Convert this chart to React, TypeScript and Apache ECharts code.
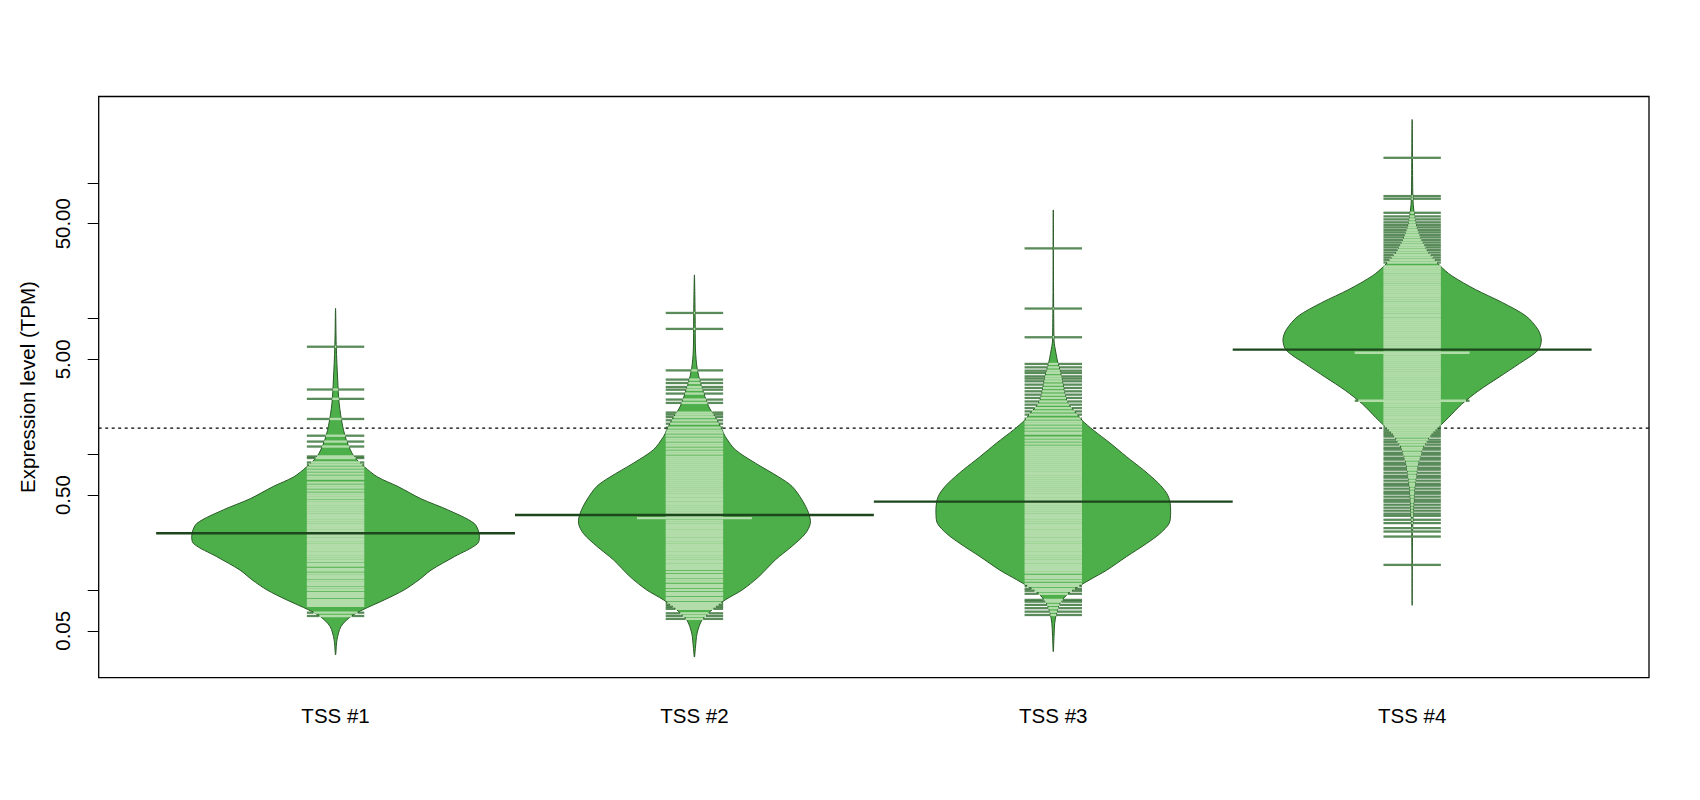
import React, { useEffect, useRef } from "react";
import * as echarts from "echarts";

// ---------- data ----------
const categories = ["TSS #1", "TSS #2", "TSS #3", "TSS #4"];
const beanMeans = [0.262, 0.357, 0.448, 5.9];
const overallMean = 1.556;
const yTickValues = [0.05, 0.1, 0.5, 1, 5, 10, 50, 100];
const yLabelValues = [0.05, 0.5, 5, 50];
const xTickValues = [1, 2, 3, 4];

// bean outlines: [TPM value, half width in x-axis units]
const bean1Outline = [
  [11.9, 0], [6.2, 0.002], [3.53, 0.006], [2.38, 0.01], [1.6, 0.02], [1.21, 0.033],
  [0.96, 0.052], [0.81, 0.08], [0.68, 0.117], [0.58, 0.173], [0.47, 0.238], [0.39, 0.312],
  [0.31, 0.386], [0.26, 0.4], [0.22, 0.396], [0.176, 0.331], [0.14, 0.266], [0.119, 0.233],
  [0.1, 0.191], [0.0845, 0.136], [0.0713, 0.075], [0.0636, 0.042], [0.0537, 0.015],
  [0.0429, 0.004], [0.0332, 0],
];
const bean2Outline = [
  [20.98, 0], [10.3, 0.002], [5.87, 0.003], [4.31, 0.0075], [3.34, 0.017], [2.82, 0.026],
  [2.24, 0.04], [1.79, 0.063], [1.51, 0.077], [1.35, 0.086], [1.08, 0.114], [0.86, 0.17],
  [0.68, 0.235], [0.58, 0.272], [0.46, 0.3], [0.37, 0.318], [0.31, 0.323], [0.26, 0.309],
  [0.21, 0.272], [0.167, 0.226], [0.125, 0.179], [0.1, 0.133], [0.0845, 0.086],
  [0.0713, 0.049], [0.06, 0.021], [0.048, 0.0075], [0.038, 0.003], [0.032, 0],
];
const bean3Outline = [
  [63.2, 0], [6.96, 0.002], [5.56, 0.0075], [4.69, 0.013], [3.73, 0.023], [2.98, 0.03],
  [2.51, 0.037], [2.24, 0.048], [2.0, 0.065], [1.79, 0.079], [1.51, 0.111], [1.21, 0.158],
  [0.96, 0.204], [0.767, 0.251], [0.612, 0.293], [0.516, 0.316], [0.448, 0.325],
  [0.37, 0.327], [0.31, 0.323], [0.26, 0.297], [0.22, 0.26], [0.176, 0.204], [0.14, 0.149],
  [0.119, 0.102], [0.106, 0.07], [0.0946, 0.042], [0.0799, 0.019], [0.0674, 0.009],
  [0.0569, 0.004], [0.0453, 0.002], [0.0351, 0],
];
const bean4Outline = [
  [293, 0], [77.5, 0.002], [61.5, 0.005], [48.9, 0.011], [38.9, 0.024], [30.9, 0.044],
  [24.6, 0.077], [20.7, 0.11], [16.4, 0.176], [13.1, 0.252], [10.4, 0.318], [8.26, 0.351],
  [6.96, 0.36], [5.85, 0.351], [4.66, 0.299], [3.7, 0.242], [2.95, 0.186], [2.34, 0.138],
  [1.86, 0.101], [1.66, 0.082], [1.4, 0.054], [1.11, 0.03], [0.83, 0.016], [0.56, 0.007],
  [0.42, 0.004], [0.26, 0.001], [0.077, 0],
];

// individual observations (TPM); repeated values are ties
const bean1Lines = [
  6.2, 3.0, 2.56, 1.82, 1.37, 1.24, 1.14, 0.963, 0.938, 0.87,
  0.838, 0.797, 0.757, 0.719, 0.684, 0.661, 0.617, 0.587, 0.567, 0.539, 0.512, 0.495, 0.478, 0.455,
  0.439, 0.425, 0.411, 0.397, 0.384, 0.371, 0.358, 0.346, 0.335, 0.324, 0.313, 0.302, 0.292, 0.283,
  0.273, 0.264, 0.255, 0.247, 0.238, 0.231, 0.223, 0.215, 0.208, 0.201, 0.195, 0.188, 0.182, 0.176,
  0.17, 0.164, 0.156, 0.151, 0.143, 0.139, 0.132, 0.127, 0.123, 0.117, 0.113, 0.109, 0.104, 0.1,
  0.0953, 0.0921, 0.089, 0.0846, 0.0818, 0.079, 0.0764, 0.068, 0.0643,
];
const bean2Lines = [
  11.0, 8.39, 4.15, 3.55, 3.35, 3.13, 2.99, 2.8, 2.53, 2.39, 2.03, 1.96, 1.88, 1.78, 1.68,
  1.572, 1.494, 1.443, 1.372, 1.303, 1.26, 1.197, 1.157, 1.1, 1.045, 1.01, 0.96, 0.928,
  0.897, 0.867, 0.838, 0.81, 0.783, 0.757, 0.732, 0.707, 0.684, 0.661, 0.639, 0.617, 0.597, 0.577,
  0.558, 0.539, 0.521, 0.503, 0.487, 0.47, 0.455, 0.439, 0.425, 0.411, 0.397, 0.384, 0.371, 0.358,
  0.346, 0.338, 0.338, 0.324, 0.313, 0.302, 0.292, 0.283, 0.273, 0.264, 0.255, 0.247, 0.238, 0.231,
  0.223, 0.215, 0.208, 0.201, 0.195, 0.188, 0.182, 0.176, 0.17, 0.164, 0.159, 0.153, 0.148, 0.143,
  0.136, 0.129, 0.125, 0.119, 0.115, 0.109, 0.1055, 0.1, 0.0953, 0.0921, 0.0875, 0.0846, 0.0804,
  0.0777, 0.0751, 0.0726, 0.0673, 0.0643, 0.0612,
];
const bean3Lines = [
  32.9, 11.85, 7.28, 4.63, 4.37, 4.13, 3.97, 3.75, 3.61, 3.45, 3.26, 3.08, 2.91, 2.75, 2.6, 2.45,
  2.32, 2.19, 2.07, 1.96, 1.83, 1.74, 1.68, 1.6, 1.52, 1.443, 1.419, 1.326, 1.26, 1.197, 1.138, 1.1,
  1.063, 1.027, 0.993, 0.96, 0.928, 0.897, 0.867, 0.838, 0.81, 0.783, 0.757, 0.731, 0.707, 0.684,
  0.661, 0.639, 0.617, 0.597, 0.577, 0.558, 0.539, 0.521, 0.503, 0.487, 0.47, 0.455, 0.439, 0.425,
  0.411, 0.397, 0.384, 0.371, 0.358, 0.346, 0.335, 0.324, 0.313, 0.302, 0.292, 0.283, 0.273, 0.264,
  0.255, 0.247, 0.238, 0.231, 0.223, 0.215, 0.208, 0.201, 0.195, 0.188, 0.182, 0.176, 0.17, 0.164,
  0.159, 0.153, 0.148, 0.143, 0.139, 0.134, 0.127, 0.123, 0.117, 0.111, 0.107, 0.102, 0.0986,
  0.0937, 0.0845, 0.082, 0.0776, 0.0734, 0.0692, 0.0654,
];
const bean4Lines = [
  153, 79.9, 76.4, 60.2, 56.6, 53.8, 51.2, 49.0, 47.0, 45.0, 43.2, 41.4, 39.7, 38.0, 36.4, 34.9,
  33.5, 32.1, 30.7, 29.4, 28.2, 27.1, 25.9,
  24.2, 23.4, 22.6, 21.9, 21.1, 20.4, 19.8, 19.1, 18.5, 17.8, 17.2, 16.7, 16.1, 15.6, 15.1, 14.6,
  14.1, 13.6, 13.1, 12.7, 12.3, 11.9, 11.5, 11.1, 10.7, 10.4, 10.0, 9.68, 9.35, 9.04, 8.74, 8.45,
  8.17, 7.89, 7.63, 7.38, 7.13, 6.89, 6.66, 6.44, 6.22, 6.02, 5.82, 5.6, 5.6, 5.43, 5.25, 5.08,
  4.91, 4.74, 4.58, 4.43, 4.28, 4.14, 4.0, 3.87, 3.74, 3.61, 3.49, 3.37, 3.26, 3.15, 3.05, 2.95,
  2.85, 2.75, 2.66, 2.57, 2.48, 2.48, 2.4, 2.32, 2.25, 2.17, 2.1, 2.03, 1.96, 1.89, 1.83, 1.77,
  1.71, 1.65, 1.6, 1.545, 1.494, 1.443,
  1.395, 1.35, 1.28, 1.228, 1.177, 1.119, 1.082, 1.027, 0.993, 0.944, 0.913, 0.867, 0.838, 0.797,
  0.77, 0.731, 0.695, 0.672, 0.639, 0.607, 0.587, 0.558, 0.53, 0.512, 0.487, 0.463, 0.447, 0.425,
  0.404, 0.384, 0.365, 0.352, 0.329, 0.311, 0.2855, 0.2695, 0.2474, 0.153,
];

const outlines = [bean1Outline, bean2Outline, bean3Outline, bean4Outline];
const beanLines = [bean1Lines, bean2Lines, bean3Lines, bean4Lines];

// ---------- styles ----------
const FONT = "'Liberation Sans', Arial, Helvetica, sans-serif";
const FONT_SIZE = 20.5;
const X_MIN = 0.34;
const X_MAX = 4.66;
const Y_MIN = 0.0226;
const Y_MAX = 433;
const LINE_LEN = 0.16; // length of one bean line in x units
const LINE_W = 2.3;
const MEAN_HALF = 0.5;
const BEAN_FILL = "#4DAF4A";
const BEAN_BORDER = "#2a5a27";
const IN_COLOR = "#B2DDAA";
const OUT_COLOR = "rgba(35,100,35,0.75)";
const MEAN_COLOR = "#1d461d";

const lg = (v: number) => Math.log10(v);

function halfWidthAt(ol: number[][], v: number): number {
  // ol sorted descending by value
  const lv = lg(v);
  for (let k = 0; k < ol.length - 1; k++) {
    const a = lg(ol[k][0]);
    const b = lg(ol[k + 1][0]);
    if (lv <= a && lv >= b) {
      const t = (a - lv) / (a - b);
      return ol[k][1] + t * (ol[k + 1][1] - ol[k][1]);
    }
  }
  return 0;
}

function buildOption() {
  const renderItem = (params: any, api: any) => {
    const i = params.dataIndex;
    const xc = xTickValues[i];
    const ol = outlines[i].slice().sort((a, b) => b[0] - a[0]);
    const pt = (x: number, v: number) => api.coord([x, lg(v)]);
    const children: any[] = [];

    const pts: number[][] = [];
    ol.forEach(([v, h]) => pts.push(pt(xc - h, v)));
    for (let k = ol.length - 2; k >= 1; k--) pts.push(pt(xc + ol[k][1], ol[k][0]));
    children.push({
      type: "polygon",
      shape: { points: pts, smooth: 0.3 },
      style: { fill: BEAN_FILL, stroke: BEAN_BORDER, lineWidth: 1 },
    });

    const counts = new Map<number, number>();
    beanLines[i].forEach((v) => counts.set(v, (counts.get(v) || 0) + 1));
    counts.forEach((n, v) => {
      const L = (n * LINE_LEN) / 2;
      const hw = halfWidthAt(ol, v);
      const inner = Math.min(hw, L);
      const [xl, y] = pt(xc - L, v);
      const [xr] = pt(xc + L, v);
      const [xil] = pt(xc - inner, v);
      const [xir] = pt(xc + inner, v);
      if (hw < L) {
        children.push({ type: "line", shape: { x1: xl, y1: y, x2: xil, y2: y }, style: { stroke: OUT_COLOR, lineWidth: LINE_W } });
        children.push({ type: "line", shape: { x1: xir, y1: y, x2: xr, y2: y }, style: { stroke: OUT_COLOR, lineWidth: LINE_W } });
      }
      if (inner > 0.0005) {
        children.push({ type: "line", shape: { x1: xil, y1: y, x2: xir, y2: y }, style: { stroke: IN_COLOR, lineWidth: LINE_W } });
      }
    });

    const [mx1, my] = pt(xc - MEAN_HALF, beanMeans[i]);
    const [mx2] = pt(xc + MEAN_HALF, beanMeans[i]);
    children.push({ type: "line", shape: { x1: mx1, y1: my, x2: mx2, y2: my }, style: { stroke: MEAN_COLOR, lineWidth: 2.4 } });
    return { type: "group", children };
  };

  return {
    animation: false,
    backgroundColor: "#ffffff",
    grid: {
      left: 98.7,
      right: 51,
      top: 96.5,
      bottom: 122.4,
      show: true,
      borderColor: "#000",
      borderWidth: 1.3,
      backgroundColor: "transparent",
      outerBoundsMode: "none",
    },
    xAxis: {
      type: "value",
      min: X_MIN,
      max: X_MAX,
      axisLine: { show: false },
      splitLine: { show: false },
      axisTick: { show: true, length: 11, customValues: xTickValues, lineStyle: { color: "#000", width: 1 } },
      axisLabel: {
        customValues: xTickValues,
        margin: 27,
        color: "#000",
        fontSize: FONT_SIZE,
        fontFamily: FONT,
        formatter: (v: number) => categories[Math.round(v) - 1] ?? "",
      },
    },
    yAxis: {
      type: "value",
      min: lg(Y_MIN),
      max: lg(Y_MAX),
      axisLine: { show: false },
      splitLine: { show: false },
      axisTick: { show: true, length: 11, customValues: yTickValues.map(lg), lineStyle: { color: "#000", width: 1 } },
      axisLabel: {
        customValues: yLabelValues.map(lg),
        rotate: 90,
        margin: 26,
        color: "#000",
        fontSize: FONT_SIZE,
        fontFamily: FONT,
        formatter: (v: number) => Math.pow(10, v).toFixed(2),
      },
    },
    graphic: [
      {
        type: "text",
        x: 27.5,
        y: 387,
        rotation: Math.PI / 2,
        style: {
          text: "Expression level (TPM)",
          fill: "#000",
          font: `${FONT_SIZE}px ${FONT}`,
          textAlign: "center",
          textVerticalAlign: "middle",
        },
      },
    ],
    series: [
      {
        type: "line",
        z: 1,
        silent: true,
        symbol: "none",
        data: [
          [X_MIN, lg(overallMean)],
          [X_MAX, lg(overallMean)],
        ],
        lineStyle: { color: "#000", width: 1.3, type: [3, 3.5] },
      },
      {
        type: "custom",
        z: 2,
        clip: false,
        silent: true,
        data: beanMeans.map((m, i) => [xTickValues[i], lg(m)]),
        renderItem,
      },
    ],
  };
}

export default function App() {
  const ref = useRef<HTMLDivElement>(null);
  useEffect(() => {
    const chart = echarts.init(ref.current!, null, { renderer: "svg" });
    chart.setOption(buildOption() as any);
    return () => chart.dispose();
  }, []);
  return (
    <div
      ref={ref}
      style={{ position: "fixed", left: 0, top: 0, width: 1700, height: 800, background: "#fff" }}
    />
  );
}
